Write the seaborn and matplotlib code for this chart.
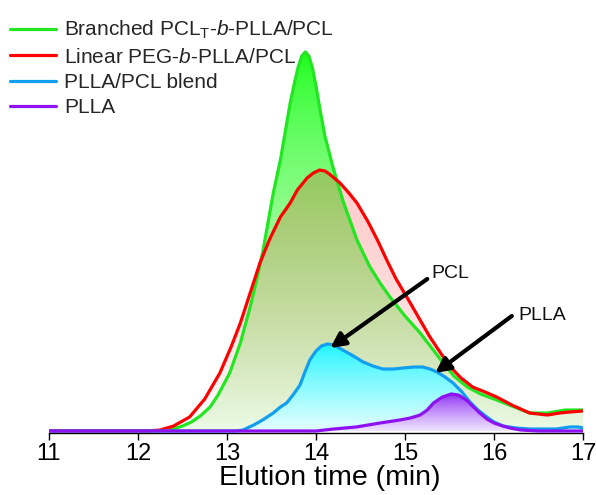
import numpy as np
import pandas as pd
import matplotlib
matplotlib.use("Agg")
import matplotlib.pyplot as plt
import seaborn as sns

# ---- GPC traces (elution time in min, detector response in arbitrary units) ----
branched_t = [11.0, 12.0, 12.2, 12.36, 12.5, 12.6, 12.7, 12.81, 12.9, 13.03, 13.15, 13.26,
              13.33, 13.40, 13.46, 13.52, 13.60, 13.66, 13.71, 13.76, 13.80, 13.84, 13.88,
              13.92, 13.96, 14.00, 14.04, 14.10, 14.19, 14.30, 14.46, 14.60, 14.72, 14.83,
              15.00, 15.17, 15.30, 15.43, 15.55, 15.70, 15.85, 16.03, 16.20, 16.40, 16.60,
              16.80, 16.97, 17.0]
branched_y = [0, 0, 0, 1, 5, 9, 15, 24, 36, 58, 88, 124,
              150, 178, 208, 238, 271, 302, 328, 349, 364, 375, 379,
              375, 363, 345, 324, 295, 264, 231, 191, 165, 148, 134,
              115, 98, 83, 68, 55, 44, 37, 31, 25, 18, 18,
              21, 21, 21]

linear_t = [11.0, 12.1, 12.25, 12.4, 12.58, 12.75, 12.92, 13.05, 13.15, 13.26, 13.37, 13.48,
            13.60, 13.71, 13.79, 13.90, 13.97, 14.04, 14.10, 14.15, 14.27, 14.37, 14.46,
            14.58, 14.69, 14.80, 14.90, 15.02, 15.15, 15.28, 15.40, 15.51, 15.63, 15.76,
            15.90, 16.03, 16.20, 16.40, 16.60, 16.74, 16.85, 17.0]
linear_y = [0, 0, 1, 5, 14, 32, 58, 85, 108, 138, 168, 192,
            214, 228, 241, 253, 258, 261, 260, 257, 248, 238, 228,
            210, 191, 170, 152, 134, 114, 94, 78, 64, 53, 44,
            39, 34, 26, 18, 16, 18, 19, 20]

blend_t = [11.0, 13.1, 13.18, 13.30, 13.40, 13.52, 13.60, 13.67, 13.75, 13.82, 13.88, 13.93,
           14.00, 14.06, 14.13, 14.20, 14.30, 14.42, 14.53, 14.64, 14.75, 14.87, 14.98,
           15.10, 15.20, 15.28, 15.36, 15.45, 15.54, 15.64, 15.73, 15.82, 15.92, 16.00,
           16.10, 16.25, 16.40, 16.70, 16.85, 16.95, 17.0]
blend_y = [0, 0, 1, 6, 11, 18, 24, 28, 37, 46, 60, 71,
           80, 85, 87, 86, 81, 75, 69, 65, 62, 62, 63,
           64, 64, 62, 59, 54, 48, 39, 29, 21, 14, 9,
           5, 3, 2, 2, 4, 4, 3]

plla_t = [11.0, 14.0, 14.2, 14.45, 14.72, 14.94, 15.06, 15.17, 15.25, 15.32, 15.42, 15.52,
          15.60, 15.69, 15.77, 15.84, 15.92, 16.00, 16.10, 16.18, 16.30, 16.50, 17.0]
plla_y = [0, 0, 2, 4, 8, 11, 13, 16, 21, 28, 34, 37,
          36, 31, 24, 18, 12, 8, 5, 3, 1, 0, 0]

series_names = ["Branched PCL$_\\mathrm{T}$-$\\mathit{b}$-PLLA/PCL",
                "Linear PEG-$\\mathit{b}$-PLLA/PCL",
                "PLLA/PCL blend",
                "PLLA"]
line_colors = ["#22e622", "#ff0000", "#129ff0", "#8e12f0"]
x_ticks = [11, 12, 13, 14, 15, 16, 17]

sns.set_theme(style="white")
plt.rcParams["font.family"] = ["Liberation Sans", "DejaVu Sans"]
plt.rcParams["mathtext.fontset"] = "custom"
plt.rcParams["mathtext.rm"] = "Liberation Sans"
plt.rcParams["mathtext.it"] = "Liberation Sans:italic"

fig = plt.figure(figsize=(5.96, 4.95), dpi=100)
ax = fig.add_axes([49 / 596, 1 - 433 / 495, 534 / 596, 423 / 495])
ax.set_xlim(11, 17)
ax.set_ylim(-2, 421)


def gradient_fill(t, y, top_rgb, bottom_rgb, top_alpha=1.0, bottom_alpha=1.0, power=1.0):
    """Vertical colour gradient under a curve, clipped to the area below it."""
    t = np.asarray(t, float)
    y = np.asarray(y, float)
    poly = ax.fill_between(t, y, 0, facecolor="none", edgecolor="none")
    ymax = y.max()
    n = 256
    frac = np.linspace(0, 1, n)          # 0 at bottom, 1 at top
    w = (1 - frac) ** power              # weight of the bottom colour
    top = np.array(top_rgb, float) / 255
    bot = np.array(bottom_rgb, float) / 255
    rgba = np.zeros((n, 1, 4))
    rgba[:, 0, :3] = top[None, :] * (1 - w[:, None]) + bot[None, :] * w[:, None]
    rgba[:, 0, 3] = top_alpha * (1 - w) + bottom_alpha * w
    im = ax.imshow(rgba, extent=[t.min(), t.max(), 0, ymax], origin="lower",
                   aspect="auto", interpolation="bilinear", zorder=1)
    im.set_clip_path(poly.get_paths()[0], transform=ax.transData)
    ax.set_xlim(11, 17)
    ax.set_ylim(-2, 421)


gradient_fill(branched_t, branched_y, (20, 255, 20), (236, 250, 230), power=0.65)
gradient_fill(linear_t, linear_y, (255, 0, 0), (255, 0, 0), top_alpha=0.2, bottom_alpha=0.0, power=1.6)
gradient_fill(blend_t, blend_y, (25, 245, 255), (228, 255, 255), power=0.8)
gradient_fill(plla_t, plla_y, (140, 45, 245), (240, 228, 255), power=0.8)

frames = [
    pd.DataFrame({"t": branched_t, "y": branched_y, "sample": series_names[0]}),
    pd.DataFrame({"t": linear_t, "y": linear_y, "sample": series_names[1]}),
    pd.DataFrame({"t": blend_t, "y": blend_y, "sample": series_names[2]}),
    pd.DataFrame({"t": plla_t, "y": plla_y, "sample": series_names[3]}),
]
data = pd.concat(frames, ignore_index=True)
sns.lineplot(data=data, x="t", y="y", hue="sample", hue_order=series_names,
             palette=line_colors, estimator=None, sort=False, lw=2.3, ax=ax,
             zorder=3)

# annotations
ax.annotate("", xy=(14.16, 83), xytext=(15.25, 152),
            arrowprops=dict(arrowstyle="-|>", color="black", lw=3,
                            mutation_scale=22, shrinkA=0, shrinkB=0), zorder=5)
ax.text(15.30, 157, "PCL", fontsize=14, ha="left", va="center", color="#111111")
ax.annotate("", xy=(15.34, 58), xytext=(16.20, 115),
            arrowprops=dict(arrowstyle="-|>", color="black", lw=3,
                            mutation_scale=22, shrinkA=0, shrinkB=0), zorder=5)
ax.text(16.27, 116, "PLLA", fontsize=14, ha="left", va="center", color="#111111")

# axes styling: only the bottom axis is shown
for side in ("left", "right", "top"):
    ax.spines[side].set_visible(False)
ax.spines["bottom"].set_color("black")
ax.spines["bottom"].set_linewidth(1.0)
ax.set_yticks([])
ax.set_ylabel("")
ax.set_xticks(x_ticks)
ax.set_xticklabels([str(v) for v in x_ticks])
ax.tick_params(axis="x", direction="out", length=5, width=1, color="black",
               labelsize=17, pad=2, bottom=True, labelcolor="black")
ax.set_xlabel("Elution time (min)", fontsize=20.5, labelpad=0, color="black")
ax.xaxis.label.set_x(0.525)
ax.set_facecolor("white")

handles, labels = ax.get_legend_handles_labels()
ax.legend(handles, labels, loc="upper left", bbox_to_anchor=(10 / 596, 1 - 19 / 495),
          bbox_transform=fig.transFigure, frameon=False, fontsize=15,
          handlelength=2.2, handletextpad=0.4, labelspacing=0.3,
          borderpad=0, borderaxespad=0, title=None)

fig.savefig("out.png", dpi=100)
